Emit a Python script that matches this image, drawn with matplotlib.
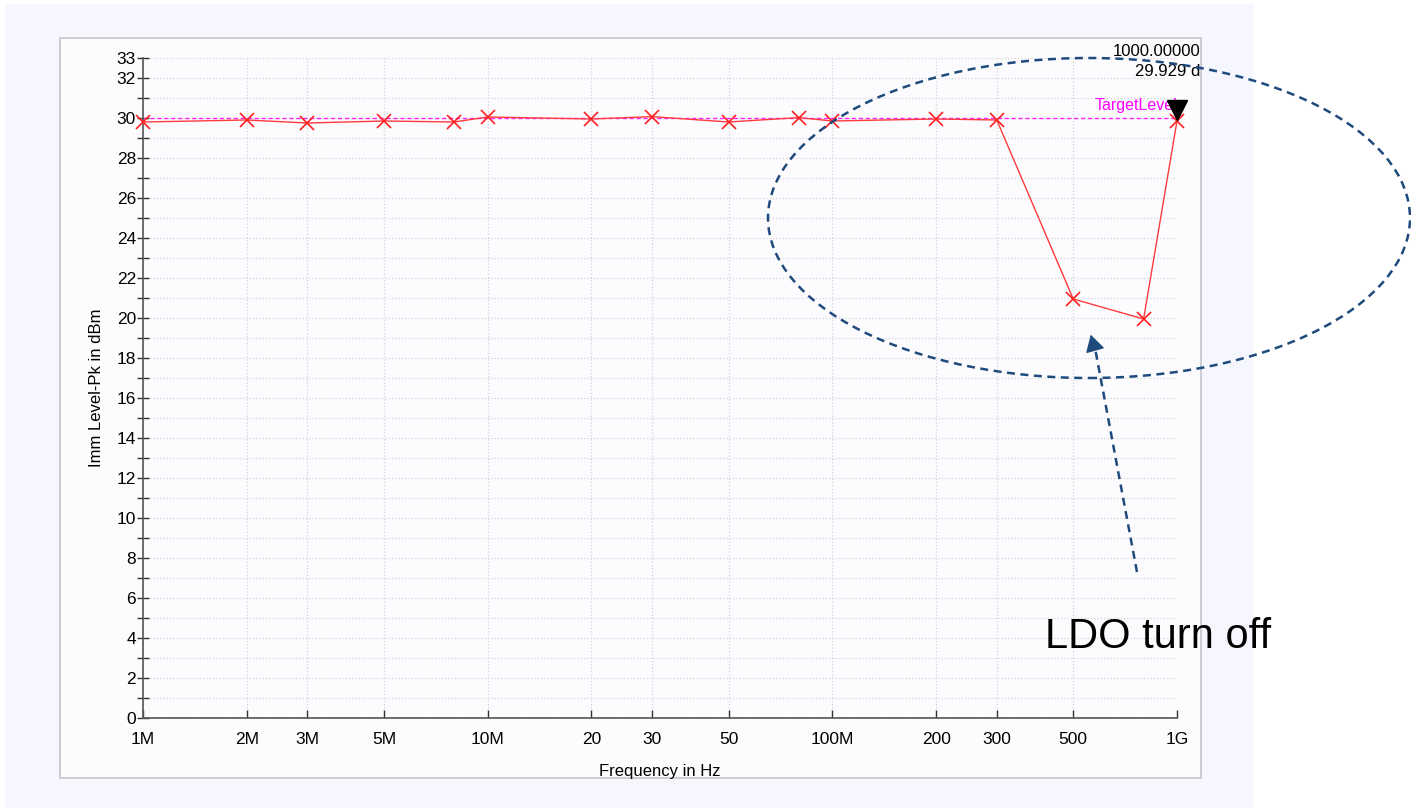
import matplotlib
matplotlib.use('Agg')
import matplotlib.pyplot as plt
from matplotlib.patches import Rectangle, Ellipse
from matplotlib.lines import Line2D
from matplotlib.transforms import offset_copy
import numpy as np

plt.rcParams['font.family'] = ['Liberation Sans', 'DejaVu Sans']

# measured data
freqs = [1e6, 2e6, 3e6, 5e6, 8e6, 10e6, 20e6, 30e6, 50e6, 80e6, 100e6,
         200e6, 300e6, 500e6, 800e6, 1e9]
levels = [29.8, 29.9, 29.75, 29.85, 29.8, 30.05, 29.95, 30.07, 29.8, 30.02,
          29.85, 29.95, 29.9, 20.95, 19.95, 29.85]
target_level = 30.0
marker_freq = 1e9
marker_level = 29.929

xtick_vals = [1e6, 2e6, 3e6, 5e6, 10e6, 20e6, 30e6, 50e6, 100e6, 200e6, 300e6, 500e6, 1e9]
xtick_labels = ['1M', '2M', '3M', '5M', '10M', '20', '30', '50', '100M', '200', '300', '500', '1G']
ytick_major = [0, 2, 4, 6, 8, 10, 12, 14, 16, 18, 20, 22, 24, 26, 28, 30, 32, 33]
ytick_minor = [1, 3, 5, 7, 9, 11, 13, 15, 17, 19, 21, 23, 25, 27, 29, 31]

W, H = 1411, 810
fig = plt.figure(figsize=(W / 100, H / 100), dpi=100)
fig.patch.set_facecolor('white')

def fx(x):
    return x / W

def fy(y):
    return 1 - y / H

# backgrounds
fig.patches.append(Rectangle((fx(5), fy(808)), fx(1253) - fx(5), fy(4) - fy(808),
                             transform=fig.transFigure, facecolor='#f5f6fe',
                             edgecolor='none', zorder=-2))
fig.patches.append(Rectangle((fx(60), fy(778)), fx(1201) - fx(60), fy(38) - fy(778),
                             transform=fig.transFigure, facecolor='#fcfcff',
                             edgecolor='#c4c4c8', linewidth=1.2, zorder=-1))

ax = fig.add_axes([fx(143), fy(718), fx(1177) - fx(143), fy(58) - fy(718)])
ax.set_facecolor('none')
ax.set_xscale('log')
ax.set_xlim(1e6, 1e9)
ax.set_ylim(0, 33)

ax.set_xticks(xtick_vals)
ax.set_xticklabels(xtick_labels)
ax.xaxis.set_minor_locator(matplotlib.ticker.NullLocator())
ax.set_yticks(ytick_major)
ax.set_yticks(ytick_minor, minor=True)

for s in ['top', 'right']:
    ax.spines[s].set_visible(False)
for s in ['left', 'bottom']:
    ax.spines[s].set_color('#555555')
    ax.spines[s].set_linewidth(1.2)

ax.tick_params(axis='x', which='major', direction='in', length=6, width=1,
               color='#333333', labelsize=12.5, pad=10)
ax.tick_params(axis='y', which='major', direction='inout', length=8, width=1,
               color='#333333', labelsize=12.5, pad=1)
ax.tick_params(axis='y', which='minor', direction='inout', length=8, width=1,
               color='#333333')

ax.grid(True, which='both', axis='y', linestyle=':', color='#d4d4d8', linewidth=0.9)
ax.grid(True, which='major', axis='x', linestyle=':', color='#d4d4d8', linewidth=0.9)
ax.set_axisbelow(True)

ax.set_xlabel('Frequency in Hz', fontsize=12)
ax.set_ylabel('Imm Level-Pk in dBm', fontsize=12)
ax.xaxis.set_label_coords(0.5, -0.070)
ax.yaxis.set_label_coords(-0.0375, 0.5)

# target level
ax.plot([1e6, 1e9], [target_level, target_level], color='#ff22ff',
        linestyle=(0, (3, 2)), linewidth=1.0, zorder=2)
ax.text(1.005e9, target_level + 0.25, 'TargetLevel', color='#ff00ff',
        fontsize=11.5, ha='right', va='bottom', zorder=4)

# measured trace
ax.plot(freqs, levels, color='#ff3b3b', linewidth=1.0, marker='x',
        markersize=10, markeredgewidth=1.2, markeredgecolor='#ff2020',
        zorder=3, clip_on=False)

# marker
tri = offset_copy(ax.transData, fig=fig, x=0, y=7, units='points')
ax.plot([marker_freq], [marker_level], marker='v', color='black',
        markersize=15, transform=tri, clip_on=False, zorder=5)
fig.text(fx(1200), fy(52), '1000.00000', fontsize=12, ha='right', va='center')
fig.text(fx(1200), fy(71), '29.929 d', fontsize=12, ha='right', va='center')

# annotation
navy = '#1f4a7c'
dash = (0, (3.2, 2.2))
fig.patches.append(Ellipse((fx(1089), fy(218)), fx(642), 320 / H,
                           transform=fig.transFigure, fill=False,
                           edgecolor=navy, linewidth=1.8,
                           linestyle=dash, zorder=6))
fig.lines.append(Line2D([fx(1137), fx(1095)], [fy(572), fy(348)],
                        transform=fig.transFigure, color=navy, linewidth=1.8,
                        linestyle=dash, zorder=6))
fig.patches.append(matplotlib.patches.FancyArrowPatch(
    (fx(1095), fy(350)), (fx(1090), fy(332)), transform=fig.transFigure,
    arrowstyle='-|>,head_length=7,head_width=4', color=navy,
    linewidth=1.0, mutation_scale=1.5, zorder=6))
fig.text(fx(1045), fy(637), 'LDO turn off', fontsize=30, ha='left', va='center')

plt.savefig('out.png', dpi=100)
